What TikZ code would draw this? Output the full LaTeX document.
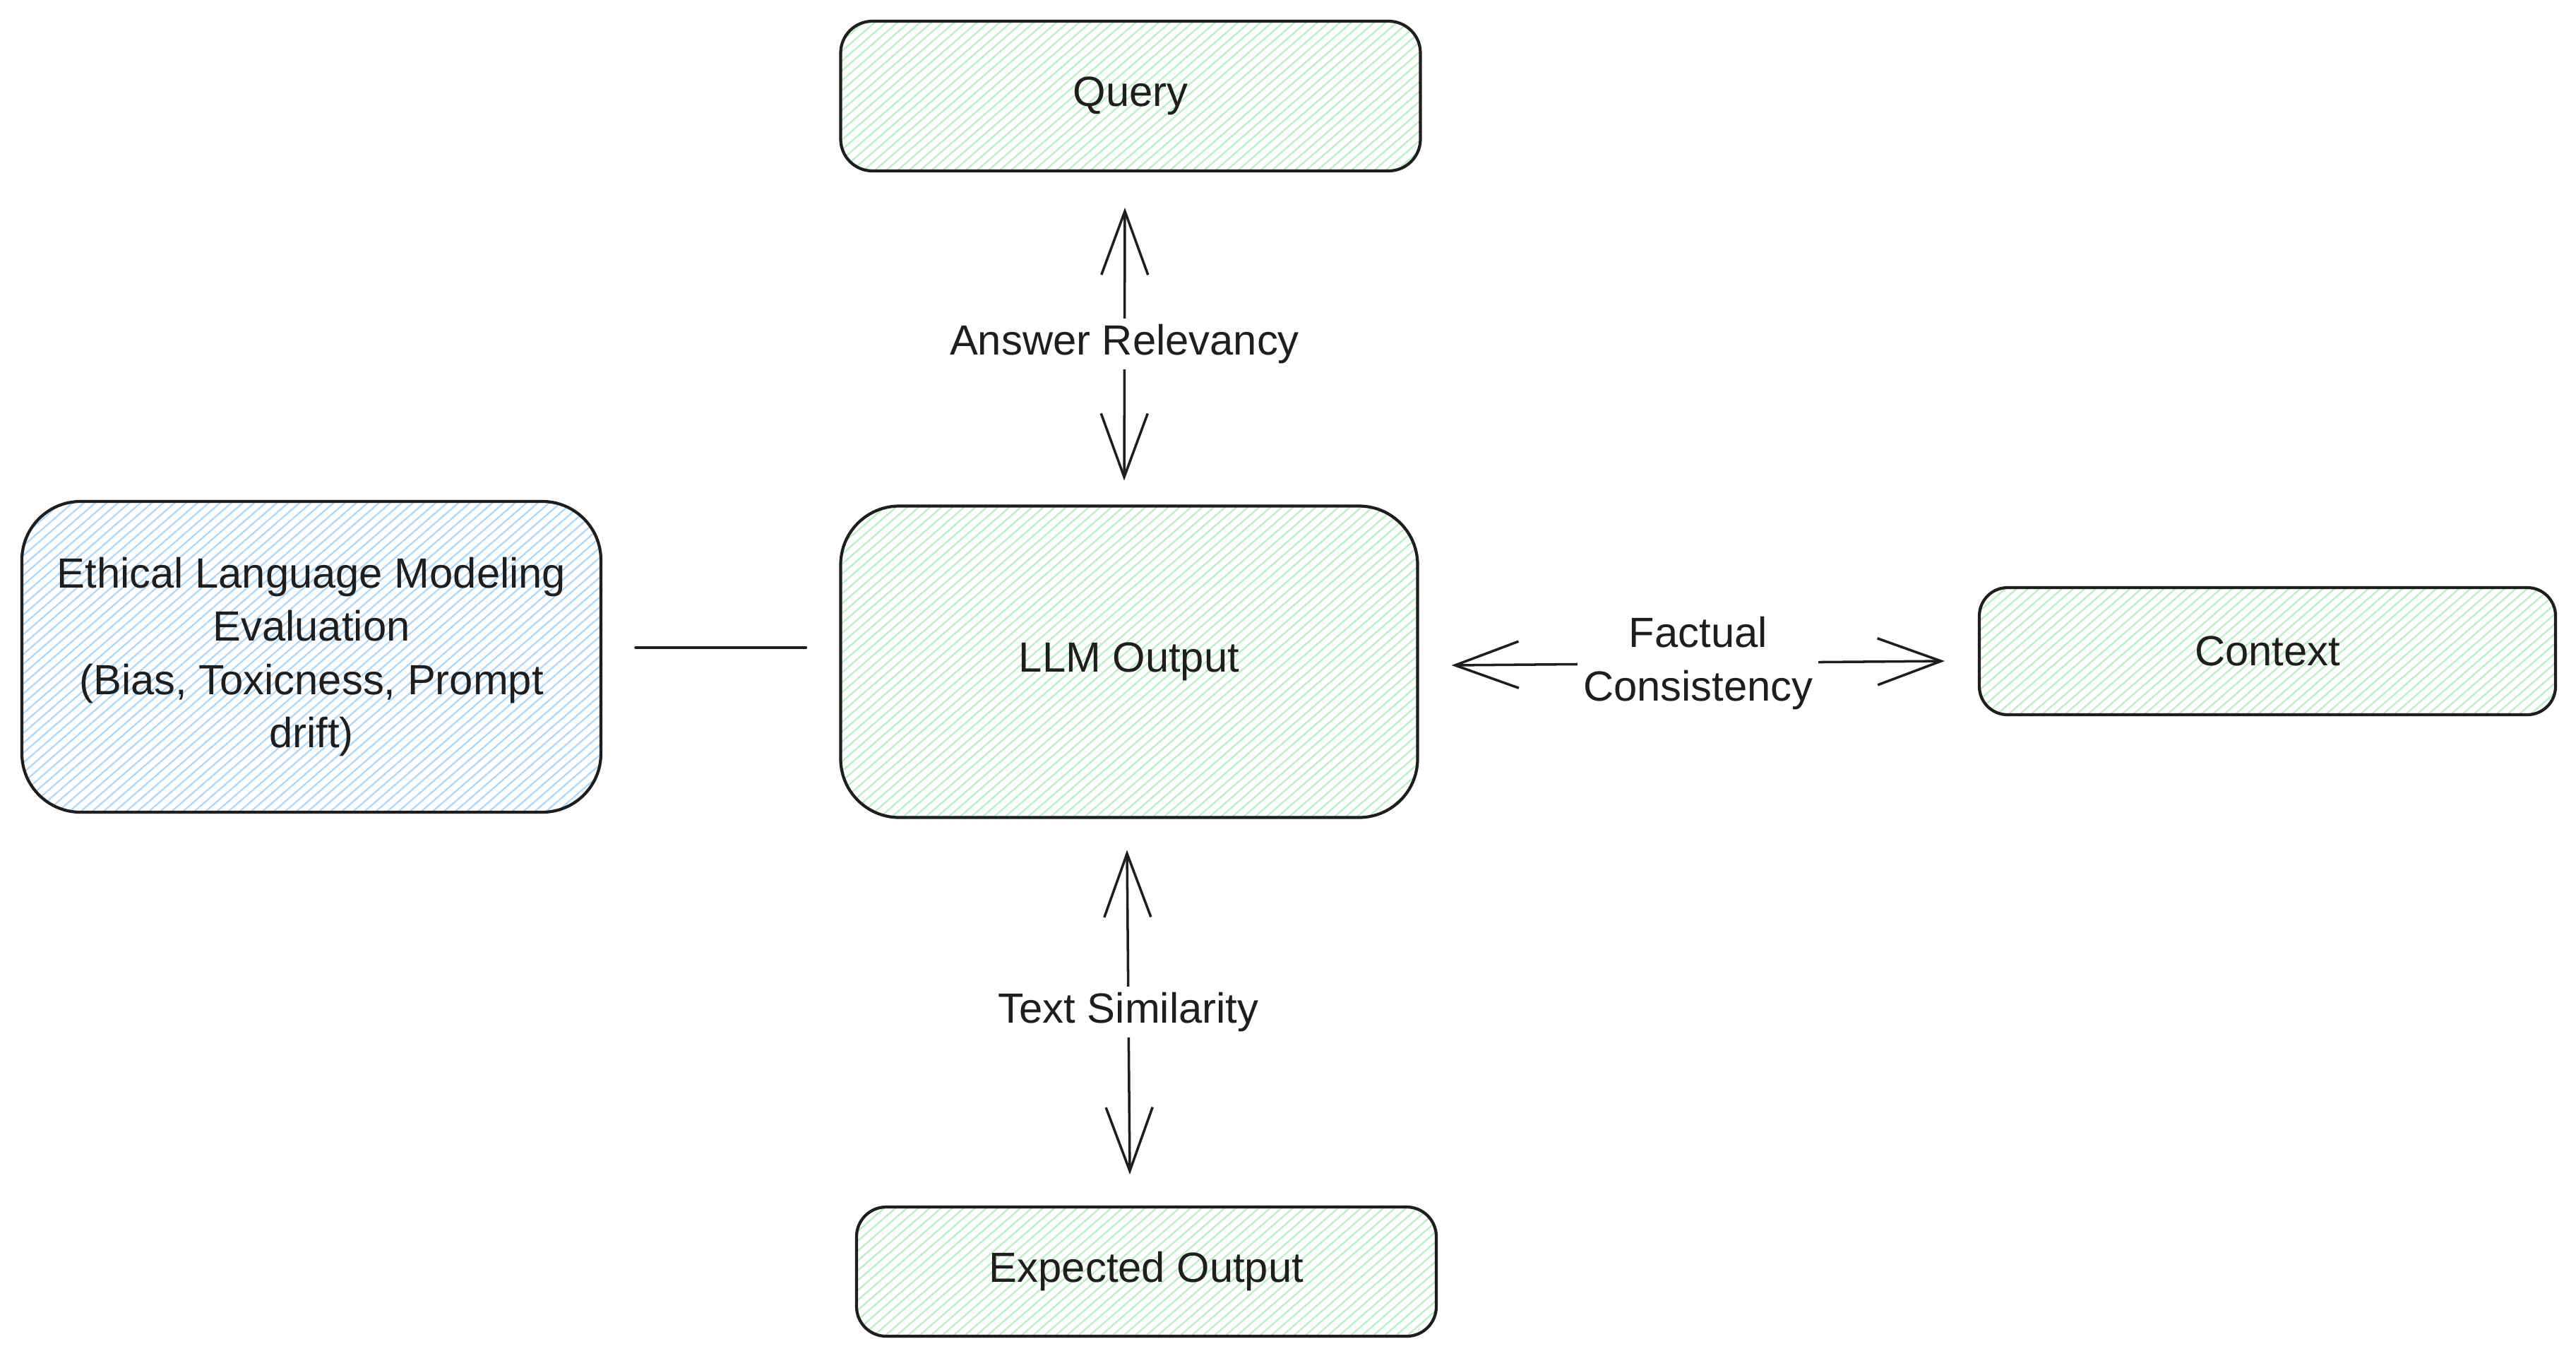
\documentclass[tikz,border=0pt]{standalone}
\usepackage{fontspec}
\setmainfont{Liberation Sans}
\usetikzlibrary{arrows.meta,patterns.meta}
\definecolor{ink}{HTML}{1E1E1E}
\definecolor{hgreen}{HTML}{B2F2BB}
\definecolor{hblue}{HTML}{A5D8FF}
\tikzset{
  box/.style={draw=ink, line width=1.2pt, inner sep=0pt, outer sep=0pt,
    font=\fontsize{17}{21.5}\selectfont, text=ink, align=center},
  greenbox/.style={box, pattern={Lines[angle=41,distance=3pt,line width=0.6pt]}, pattern color=hgreen},
  bluebox/.style={box, pattern={Lines[angle=41,distance=3pt,line width=0.6pt]}, pattern color=hblue},
  conn/.style={draw=ink, line width=1pt, line cap=round},
  dbl/.style={conn, {Straight Barb[length=0.9cm,width=0.66cm]}-{Straight Barb[length=0.9cm,width=0.66cm]}},
  lab/.style={fill=white, inner sep=0.08cm, text=ink, align=center,
    font=\fontsize{17}{21.5}\selectfont}
}
\begin{document}
\begin{tikzpicture}
\useasboundingbox (0,0) rectangle (36.48,-19.19);
\fill[white] (0,0) rectangle (36.48,-19.19);

\node[greenbox, rounded corners=0.45cm, minimum width=8.21cm, minimum height=2.12cm] (q) at (16.01,-1.36) {Query};
\node[greenbox, rounded corners=0.83cm, minimum width=8.17cm, minimum height=4.41cm] (llm) at (15.99,-9.37) {LLM Output};
\node[bluebox, rounded corners=0.83cm, minimum width=8.20cm, minimum height=4.40cm] (eth) at (4.41,-9.30)
  {Ethical Language Modeling\\Evaluation\\(Bias, Toxicness, Prompt\\drift)};
\node[greenbox, rounded corners=0.4cm, minimum width=8.16cm, minimum height=1.80cm] (ctx) at (32.11,-9.22) {Context};
\node[greenbox, rounded corners=0.42cm, minimum width=8.21cm, minimum height=1.83cm] (exp) at (16.235,-18.005) {Expected Output};

\draw[dbl] ([shift={(-0.08,-0.52)}]q.south) -- node[lab] {Answer Relevancy} ([shift={(-0.07,0.36)}]llm.north);
\draw[dbl] ([shift={(-0.03,-0.46)}]llm.south) -- node[lab] {Text Similarity} ([shift={(-0.235,0.46)}]exp.north);
\draw[dbl] ([shift={(0.48,-0.05)}]llm.east) -- node[lab] {Factual\\Consistency} ([shift={(-0.49,-0.14)}]ctx.west);
\draw[conn] ([shift={(0.49,0.13)}]eth.east) -- ([shift={(-0.49,0.20)}]llm.west);
\end{tikzpicture}
\end{document}
